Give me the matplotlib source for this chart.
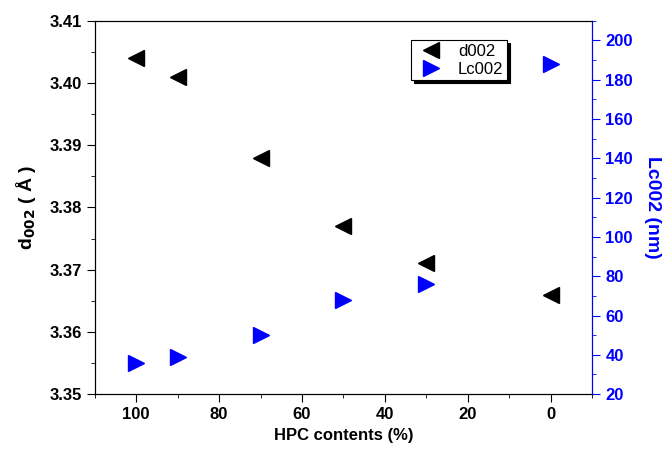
import matplotlib
matplotlib.use("Agg")
import matplotlib.pyplot as plt
from matplotlib.ticker import MultipleLocator

plt.rcParams['font.family'] = ['Liberation Sans', 'DejaVu Sans']
plt.rcParams['mathtext.default'] = 'bf'

# data
hpc = [100, 90, 70, 50, 30, 0]
d002 = [3.404, 3.401, 3.388, 3.377, 3.371, 3.366]
lc002 = [36, 39, 50, 68, 76, 188]

fig = plt.figure(figsize=(6.63, 4.53), dpi=100)
ax = fig.add_axes([0.143, 0.130, 0.750, 0.824])
ax2 = ax.twinx()

h1, = ax.plot(hpc, d002, '<', color='black', markersize=11, linestyle='none', label='d002')
h2, = ax2.plot(hpc, lc002, '>', color='blue', markersize=11, linestyle='none', label='Lc002')

ax.set_xlim(110, -10)
ax.set_ylim(3.35, 3.41)
ax2.set_ylim(20, 210)

ax.xaxis.set_major_locator(MultipleLocator(20))
ax.xaxis.set_minor_locator(MultipleLocator(10))
ax.yaxis.set_major_locator(MultipleLocator(0.01))
ax.yaxis.set_minor_locator(MultipleLocator(0.005))
ax2.yaxis.set_major_locator(MultipleLocator(20))
ax2.yaxis.set_minor_locator(MultipleLocator(10))
ax.yaxis.set_major_formatter(plt.FormatStrFormatter('%.2f'))

ax.tick_params(which='both', direction='out', labelsize=12)
ax.tick_params(which='major', length=6)
ax.tick_params(which='minor', length=3)
ax2.tick_params(which='both', direction='out', colors='blue', labelsize=12)
ax2.tick_params(which='major', length=6)
ax2.tick_params(which='minor', length=3)
ax2.spines['right'].set_color('blue')
for lab in ax.get_xticklabels() + ax.get_yticklabels() + ax2.get_yticklabels():
    lab.set_fontweight('bold')

ax.set_xlabel('HPC contents (%)', fontsize=12, fontweight='bold')
ax.set_ylabel('d$_{002}$ ( Å )', fontsize=14, fontweight='bold', labelpad=8)
ax2.set_ylabel('Lc002 (nm)', fontsize=14, fontweight='bold', color='blue',
               rotation=270, labelpad=20)

leg = ax.legend([h1, h2], ['d002', 'Lc002'], loc='upper left',
                bbox_to_anchor=(0.62, 0.97), fancybox=False, framealpha=1,
                edgecolor='black', fontsize=12, handletextpad=0.6,
                borderpad=0.2, labelspacing=0.2,
                shadow={'color': 'black', 'alpha': 1})
leg.get_frame().set_linewidth(0.8)

fig.savefig('out.png', dpi=100)
